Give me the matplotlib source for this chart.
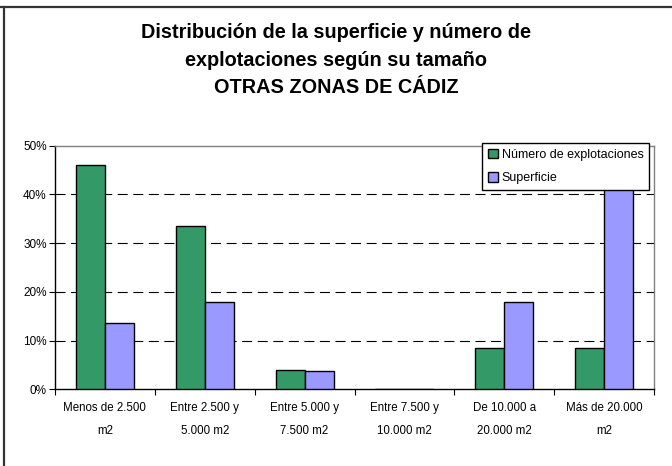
import numpy as np
import matplotlib
matplotlib.use("Agg")
import matplotlib.pyplot as plt
from matplotlib.lines import Line2D
from matplotlib.patches import Patch

categorias = ["Menos de 2.500\nm2", "Entre 2.500 y\n5.000 m2", "Entre 5.000 y\n7.500 m2",
              "Entre 7.500 y\n10.000 m2", "De 10.000 a\n20.000 m2", "Más de 20.000\nm2"]
num_explotaciones = [46.0, 33.5, 4.0, 0.0, 8.4, 8.4]
superficie = [13.7, 18.0, 3.7, 0.0, 18.0, 46.6]
yticks = [0, 10, 20, 30, 40, 50]
titulo = ["Distribución de la superficie y número de",
          "explotaciones según su tamaño",
          "OTRAS ZONAS DE CÁDIZ"]

verde = "#339966"
lila = "#9999FF"

plt.rcParams['font.family'] = ['Liberation Sans', 'DejaVu Sans']

fig = plt.figure(figsize=(6.72, 4.66), dpi=100)
ax = fig.add_axes([55/672, 1-389.3/466, (654-55)/672, (389.3-145.7)/466])

x = np.arange(len(categorias))
w = 0.29
ax.bar(x - w/2, num_explotaciones, w, color=verde, edgecolor="black", linewidth=1, zorder=3)
ax.bar(x + w/2, superficie, w, color=lila, edgecolor="black", linewidth=1, zorder=3)

ax.set_xlim(-0.5, len(categorias) - 0.5)
ax.set_ylim(0, 50)
ax.set_yticks(yticks)
ax.set_yticklabels([str(v) + "%" for v in yticks], fontsize=8.5)
for v in yticks[1:-1]:
    ax.axhline(v, color="black", linewidth=0.8, linestyle=(0, (9, 5)), zorder=1)

# ticks between categories, labels centered
ax.set_xticks(np.arange(len(categorias) + 1) - 0.5)
ax.set_xticklabels([])
ax.set_xticks(x, minor=True)
ax.set_xticklabels(categorias, minor=True, fontsize=8.3, linespacing=2.25)
ax.tick_params(axis="x", which="minor", length=0, pad=9)
ax.tick_params(axis="x", which="major", length=4, width=0.8)
ax.tick_params(axis="y", length=4, width=0.8, pad=2)

for s in ["left", "bottom"]:
    ax.spines[s].set_color("black")
    ax.spines[s].set_linewidth(1)
for s in ["top", "right"]:
    ax.spines[s].set_color("#808080")
    ax.spines[s].set_linewidth(1)

handles = [Patch(facecolor=verde, edgecolor="black", linewidth=1),
           Patch(facecolor=lila, edgecolor="black", linewidth=1)]
leg = fig.legend(handles, ["Número de explotaciones", "Superficie"],
                 loc="upper right", bbox_to_anchor=(649/672, 1-143/466),
                 fontsize=9, frameon=True, fancybox=False, framealpha=1,
                 handlelength=0.8, handleheight=0.8, handletextpad=0.3,
                 labelspacing=0.9, borderpad=0.45, borderaxespad=0)
leg.get_frame().set_edgecolor("black")
leg.get_frame().set_linewidth(1)
leg.set_zorder(5)

# title lines, baselines placed one by one
for linea, base in zip(titulo, [38, 66, 93]):
    fig.text(0.5, 1-base/466, linea, ha="center", va="baseline",
             fontsize=14.3, fontweight="bold")

fig.add_artist(Line2D([0, 1], [1-6.5/466, 1-6.5/466], color="#333333", linewidth=1.6))
fig.add_artist(Line2D([3.5/672, 3.5/672], [0, 1-6.5/466], color="#333333", linewidth=1.6))

fig.savefig("out.png", dpi=100)
